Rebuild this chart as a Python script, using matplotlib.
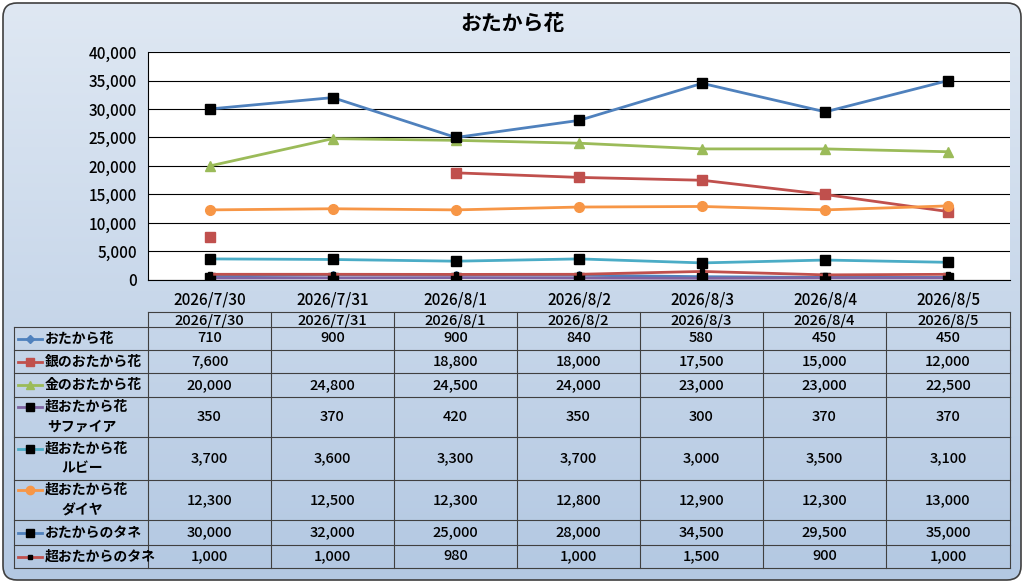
import numpy as np
import matplotlib
matplotlib.use("Agg")
import matplotlib.pyplot as plt
from matplotlib.patches import FancyBboxPatch
from matplotlib.colors import LinearSegmentedColormap

plt.rcParams['font.family'] = ['Noto Sans CJK JP', 'DejaVu Sans']

title = "おたから花"
dates = ["2026/7/30", "2026/7/31", "2026/8/1", "2026/8/2", "2026/8/3", "2026/8/4", "2026/8/5"]
names = ["おたから花", "銀のおたから花", "金のおたから花", "超おたから花\nサファイア",
         "超おたから花\nルビー", "超おたから花\nダイヤ", "おたからのタネ", "超おたからのタネ"]
otakara = [710, 900, 900, 840, 580, 450, 450]
gin = [7600, None, 18800, 18000, 17500, 15000, 12000]
kin = [20000, 24800, 24500, 24000, 23000, 23000, 22500]
sapphire = [350, 370, 420, 350, 300, 370, 370]
ruby = [3700, 3600, 3300, 3700, 3000, 3500, 3100]
diamond = [12300, 12500, 12300, 12800, 12900, 12300, 13000]
tane = [30000, 32000, 25000, 28000, 34500, 29500, 35000]
cho_tane = [1000, 1000, 980, 1000, 1500, 900, 1000]
series = [otakara, gin, kin, sapphire, ruby, diamond, tane, cho_tane]

# style: line colour, marker, marker colour, marker size
styles = [("#4f81bd", "D", "#4f81bd", 4),
          ("#c0504d", "s", "#c0504d", 7),
          ("#9bbb59", "^", "#9bbb59", 7),
          ("#8064a2", "s", "black", 7),
          ("#4bacc6", "s", "black", 7),
          ("#f79646", "o", "#f79646", 7),
          ("#4f81bd", "s", "black", 7),
          ("#c0504d", "s", "black", 3)]

W, H = 1024, 583
fig = plt.figure(figsize=(W / 100, H / 100), dpi=100)

def fx(px): return px / W
def fy(py): return 1 - py / H

# fondo con degradado y borde redondeado
bg = fig.add_axes([0, 0, 1, 1])
bg.set_xlim(0, W); bg.set_ylim(H, 0); bg.axis("off")
grad = np.linspace(0, 1, 256).reshape(-1, 1)
cm = LinearSegmentedColormap.from_list("g", ["#dfe8f3", "#b3c8e2"])
im = bg.imshow(grad, cmap=cm, extent=[2, W - 2, H - 2, 2], aspect="auto")
box = FancyBboxPatch((3, 3), W - 6, H - 6, boxstyle="round,pad=0,rounding_size=14",
                     fc="none", ec="#404040", lw=1.2)
bg.add_patch(box)
im.set_clip_path(box)

fig.text(0.5, fy(24), title, ha="center", va="center", fontsize=15, fontweight="bold")

# area del grafico
x0, x1, y0, y1 = 148, 1010, 52, 280
ax = fig.add_axes([fx(x0), fy(y1), fx(x1 - x0), (y1 - y0) / H])
ax.set_facecolor("white")
x = np.arange(len(dates))
for vals, (lc, mk, mc, ms) in zip(series, styles):
    v = np.array([np.nan if a is None else a for a in vals], dtype=float)
    ax.plot(x, v, color=lc, lw=2, marker=mk, ms=ms, mfc=mc, mec=mc, zorder=3)
ax.set_xlim(-0.5, len(dates) - 0.5)
ax.set_ylim(0, 40000)
ax.set_yticks(range(0, 40001, 5000))
ax.set_yticklabels([f"{t:,}" for t in range(0, 40001, 5000)], fontsize=11, fontweight="medium")
ax.yaxis.grid(True, color="black", lw=0.8)
ax.set_axisbelow(True)
ax.set_xticks(x)
ax.set_xticklabels(dates, fontsize=11, fontweight="medium")
ax.tick_params(length=0, pad=8)
for s in ["top", "right"]:
    ax.spines[s].set_visible(False)

# tabla de datos
cols = [14, 148, 271, 394, 517, 640, 763, 886, 1010]
rows = [312, 327, 350, 373, 397, 437, 480, 520, 545, 568]
lc_ = "#404040"
bg.plot([cols[1], cols[-1]], [rows[0], rows[0]], color=lc_, lw=0.8)
for r in rows[1:]:
    bg.plot([cols[0], cols[-1]], [r, r], color=lc_, lw=0.8)
for i, c in enumerate(cols):
    top = rows[1] if i == 0 else rows[0]
    bg.plot([c, c], [top, rows[-1]], color=lc_, lw=0.8)
for j, d in enumerate(dates):
    bg.text((cols[j + 1] + cols[j + 2]) / 2, (rows[0] + rows[1]) / 2 + 1, d,
            ha="center", va="center", fontsize=10.5, fontweight="medium")
for i, (nm, vals, (lc, mk, mc, ms)) in enumerate(zip(names, series, styles)):
    yc = (rows[i + 1] + rows[i + 2]) / 2
    ly = yc - 10 if "\n" in nm else yc
    bg.plot([18, 42], [ly, ly], color=lc, lw=2)
    bg.plot([30], [ly], marker=mk, color=mc, ms=min(ms, 6), mec=mc)
    if "\n" in nm:
        a, b = nm.split("\n")
        bg.text(45, yc - 10, a, ha="left", va="center", fontsize=10, fontweight="bold")
        bg.text(82, yc + 10, b, ha="center", va="center", fontsize=10, fontweight="bold")
    else:
        bg.text(45, yc, nm, ha="left", va="center", fontsize=10, fontweight="bold")
    for j, v in enumerate(vals):
        if v is not None:
            bg.text((cols[j + 1] + cols[j + 2]) / 2, yc, f"{v:,}",
                    ha="center", va="center", fontsize=10.5, fontweight="medium")

fig.savefig("out.png", dpi=100)
